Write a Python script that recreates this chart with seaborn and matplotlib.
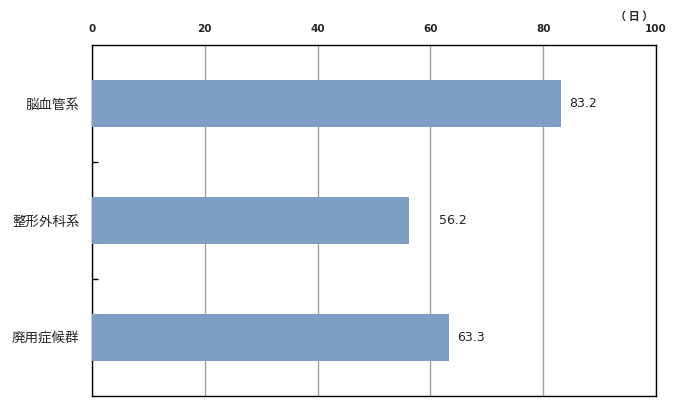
import numpy as np
import pandas as pd
import matplotlib
matplotlib.use('Agg')
import matplotlib.pyplot as plt
import seaborn as sns

# データ（平均日数）
categories = ['脳血管系', '整形外科系', '廃用症候群']
values = [83.2, 56.2, 63.3]
x_ticks = [0, 20, 40, 60, 80, 100]
label_pad = [8, 30, 8]  # ラベルの右方向オフセット(px)

df = pd.DataFrame({'分類': categories, '日数': values})

sns.set_style('white')
plt.rcParams['font.family'] = ['Noto Sans CJK JP', 'DejaVu Sans']

fig = plt.figure(figsize=(6.75, 4.12), dpi=100)
ax = fig.add_axes([0.1363, 0.0388, 0.8355, 0.852])

sns.barplot(data=df, y='分類', x='日数', orient='h', color='#7f9ec3',
            saturation=1, width=0.4, linewidth=0, ax=ax, zorder=3)

ax.set_xlim(0, 100)
ax.set_ylim(2.5, -0.5)
ax.set_xticks(x_ticks)
ax.xaxis.tick_top()
ax.tick_params(axis='x', length=0, pad=8, labelsize=7.5)
for t in ax.get_xticklabels():
    t.set_fontweight('bold')
    t.set_family('DejaVu Sans')
ax.grid(axis='x', color='#a0a0a0', linewidth=1, zorder=0)
ax.set_xlabel('')
ax.set_ylabel('')

# カテゴリ境界の小目盛
ax.set_yticks([0.5, 1.5], minor=True)
ax.tick_params(axis='y', which='major', left=False, length=0, labelsize=9.7, pad=9)
ax.tick_params(axis='y', which='minor', left=True, direction='in', length=4,
               width=1, color='black')

for s in ax.spines.values():
    s.set_color('black')
    s.set_linewidth(1)

for i, v in enumerate(values):
    ax.annotate(f'{v:.1f}', xy=(v, i), xytext=(label_pad[i] * 0.72, 0),
                textcoords='offset points', va='center', ha='left',
                fontsize=9, family='DejaVu Sans', color='#222222')

fig.text(0.968, 0.975, '（ 日 ）', ha='right', va='top', fontsize=8, fontweight='bold')

plt.savefig('out.png', dpi=100)
